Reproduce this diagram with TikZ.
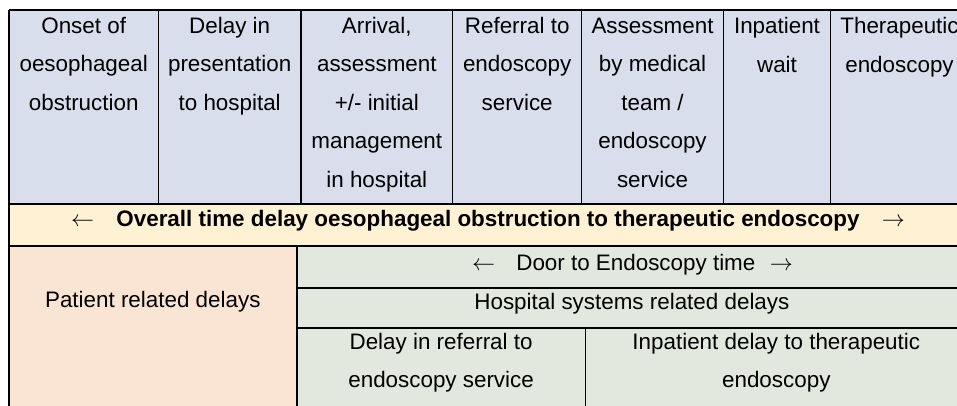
\documentclass[tikz,border=0pt]{standalone}
\usepackage{fontspec}
\setmainfont{Liberation Sans}
\definecolor{hdrblue}{RGB}{217,222,236}
\definecolor{sumyellow}{RGB}{255,241,212}
\definecolor{patorange}{RGB}{250,229,213}
\definecolor{hospgreen}{RGB}{227,232,223}
\begin{document}
\begin{tikzpicture}[x=0.75pt,y=-0.75pt,
 txt/.style={inner sep=0pt,anchor=base,align=center,font=\fontsize{16.8}{28.9}\selectfont},
 rule/.style={line width=0.8pt,black}]
 \useasboundingbox (0,0) rectangle (957,405);
 \clip (0,0) rectangle (957,405);
 % cell fills
 \fill[hdrblue](9,10) rectangle (970,204);
 \fill[sumyellow](9,204) rectangle (970,246);
 \fill[patorange](9,246) rectangle (297,410);
 \fill[hospgreen](297,246) rectangle (970,410);
 % table rules
 \draw[rule](9,10)--(970,10);
 \draw[rule](9,204)--(970,204);
 \draw[rule](9,246)--(970,246);
 \draw[rule](297,288)--(970,288);
 \draw[rule](297,328)--(970,328);
 \draw[rule](9,10)--(9,410);
 \foreach \x in {158.3,301,452.7,581.7,723.3,830.7}
  \draw[rule](\x,10)--(\x,204);
 \draw[rule](297,246)--(297,410);
 \draw[rule](585.5,328)--(585.5,410);
 % stages (anchored at the last line's baseline)
 \node[txt] (onset) at (83.7,110.5) {Onset of\\oesophageal\\obstruction};
 \node[txt] (present) at (229.7,110.5) {Delay in\\presentation\\to hospital};
 \node[txt] (arrival) at (376.8,187.5) {Arrival,\\assessment\\+/- initial\\management\\in hospital};
 \node[txt] (referral) at (517.2,110.5) {Referral to\\endoscopy\\service};
 \node[txt] (assess) at (652.5,187.5) {Assessment\\by medical\\team /\\endoscopy\\service};
 \node[txt] (inpwait) at (777,72) {Inpatient\\wait};
 \node[txt] (therapy) at (899.5,72) {Therapeutic\\endoscopy};
 % delays
 \node[txt] (overall) at (488,226.7) {$\leftarrow$\quad\textbf{Overall time delay oesophageal obstruction to therapeutic endoscopy}\quad$\rightarrow$};
 \node[txt] (patient) at (152.8,307.5) {Patient related delays};
 \node[txt] (door) at (632.5,270) {$\leftarrow$\hspace{0.95em}Door to Endoscopy time\hspace{0.65em}$\rightarrow$};
 \node[txt] (hospital) at (631.9,309.5) {Hospital systems related delays};
 \node[txt] (delayref) at (441.1,387.8) {Delay in referral to\\endoscopy service};
 \node[txt] (inpdelay) at (776.3,387.8) {Inpatient delay to therapeutic\\endoscopy};
\end{tikzpicture}
\end{document}
